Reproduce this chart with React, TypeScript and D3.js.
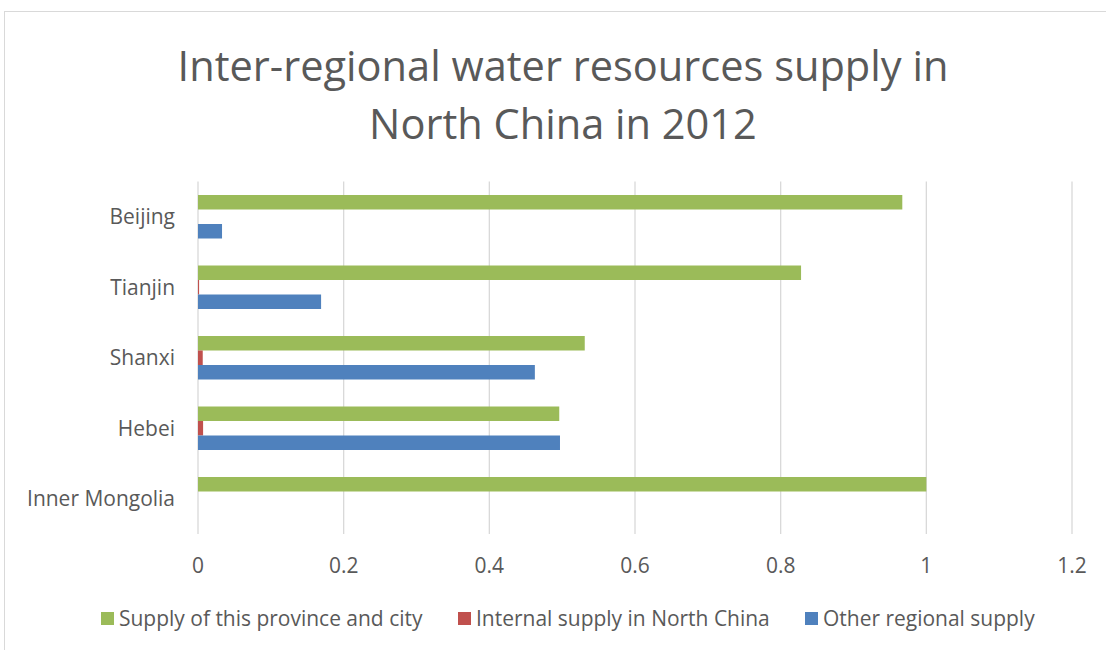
import React, { useEffect, useRef } from 'react';
import * as d3 from 'd3';

const categories = ['Beijing', 'Tianjin', 'Shanxi', 'Hebei', 'Inner Mongolia'];
const seriesNames = ['Supply of this province and city', 'Internal supply in North China', 'Other regional supply'];
const ownSupply = [0.967, 0.828, 0.531, 0.496, 1.0];
const internalSupply = [0, 0.0015, 0.0065, 0.007, 0];
const otherSupply = [0.033, 0.169, 0.4625, 0.497, 0];
const xTicks = [0, 0.2, 0.4, 0.6, 0.8, 1, 1.2];
const colors = ['#9BBB59', '#C0504D', '#4F81BD'];

const FONT = '"Open Sans", sans-serif';
const TEXT = '#595959';

const App: React.FC = () => {
    const svgRef = useRef<SVGSVGElement>(null);

    useEffect(() => {
        if (!svgRef.current) return;
        const svg = d3.select(svgRef.current);
        svg.selectAll('*').remove();

        // 文字幅を合わせるためのフォントサイズ調整
        const fitSize = (probe: string, size: number, target: number) => {
            const t = svg.append('text').attr('font-family', FONT).attr('font-size', size).text(probe);
            const len = (t.node() as SVGTextElement).getComputedTextLength();
            t.remove();
            return len > 0 ? size * target / len : size;
        };

        const labelSize = fitSize('Inner Mongolia', 20, 148);
        const titleSize = fitSize('Inter-regional water resources supply in', 40, 771);

        // 外枠
        svg.append('rect')
            .attr('x', 4.5).attr('y', 11.5)
            .attr('width', 1200).attr('height', 700)
            .attr('fill', 'white')
            .attr('stroke', '#D9D9D9');

        // タイトル
        ['Inter-regional water resources supply in', 'North China in 2012'].forEach((line, i) => {
            svg.append('text')
                .attr('x', 563).attr('y', 81 + i * 58)
                .attr('text-anchor', 'middle')
                .attr('font-family', FONT)
                .attr('font-size', titleSize)
                .attr('fill', TEXT)
                .text(line);
        });

        const x = d3.scaleLinear().domain([0, 1.2]).range([198, 1072]);
        const y0 = d3.scaleBand<string>().domain(categories).range([181.5, 534])
            .paddingInner(0.383).paddingOuter(0.1915);
        const y1 = d3.scaleBand<string>().domain(seriesNames).range([0, y0.bandwidth()]);

        // グリッド
        svg.append('g').selectAll('line').data(xTicks).join('line')
            .attr('x1', d => x(d)).attr('x2', d => x(d))
            .attr('y1', 181.5).attr('y2', 534)
            .attr('stroke', '#D9D9D9').attr('stroke-width', 1.3);

        // 目盛りラベル
        svg.append('g').selectAll('text').data(xTicks).join('text')
            .attr('x', d => x(d)).attr('y', 573)
            .attr('text-anchor', 'middle')
            .attr('font-family', FONT).attr('font-size', labelSize)
            .attr('fill', TEXT)
            .text(d => String(d));

        // カテゴリラベル
        svg.append('g').selectAll('text').data(categories).join('text')
            .attr('x', 175).attr('y', d => (y0(d) as number) + y0.bandwidth() / 2)
            .attr('dy', '0.35em')
            .attr('text-anchor', 'end')
            .attr('font-family', FONT).attr('font-size', labelSize)
            .attr('fill', TEXT)
            .text(d => d);

        // 棒
        const series = [ownSupply, internalSupply, otherSupply];
        series.forEach((vals, si) => {
            svg.append('g').selectAll('rect').data(vals).join('rect')
                .attr('x', x(0))
                .attr('y', (_, i) => (y0(categories[i]) as number) + (y1(seriesNames[si]) as number))
                .attr('width', d => x(d) - x(0))
                .attr('height', y1.bandwidth())
                .attr('fill', colors[si]);
        });

        // 凡例
        const legendX = [101, 458, 805];
        seriesNames.forEach((name, i) => {
            svg.append('rect')
                .attr('x', legendX[i]).attr('y', 612)
                .attr('width', 13).attr('height', 13)
                .attr('fill', colors[i]);
            svg.append('text')
                .attr('x', legendX[i] + 18).attr('y', 626)
                .attr('font-family', FONT).attr('font-size', labelSize)
                .attr('fill', TEXT)
                .text(name);
        });
    }, []);

    return (
        <div style={{ position: 'absolute', left: 0, top: 0 }}>
            <svg ref={svgRef} width="1106" height="650" style={{ display: 'block' }}></svg>
        </div>
    );
};

export default App;
